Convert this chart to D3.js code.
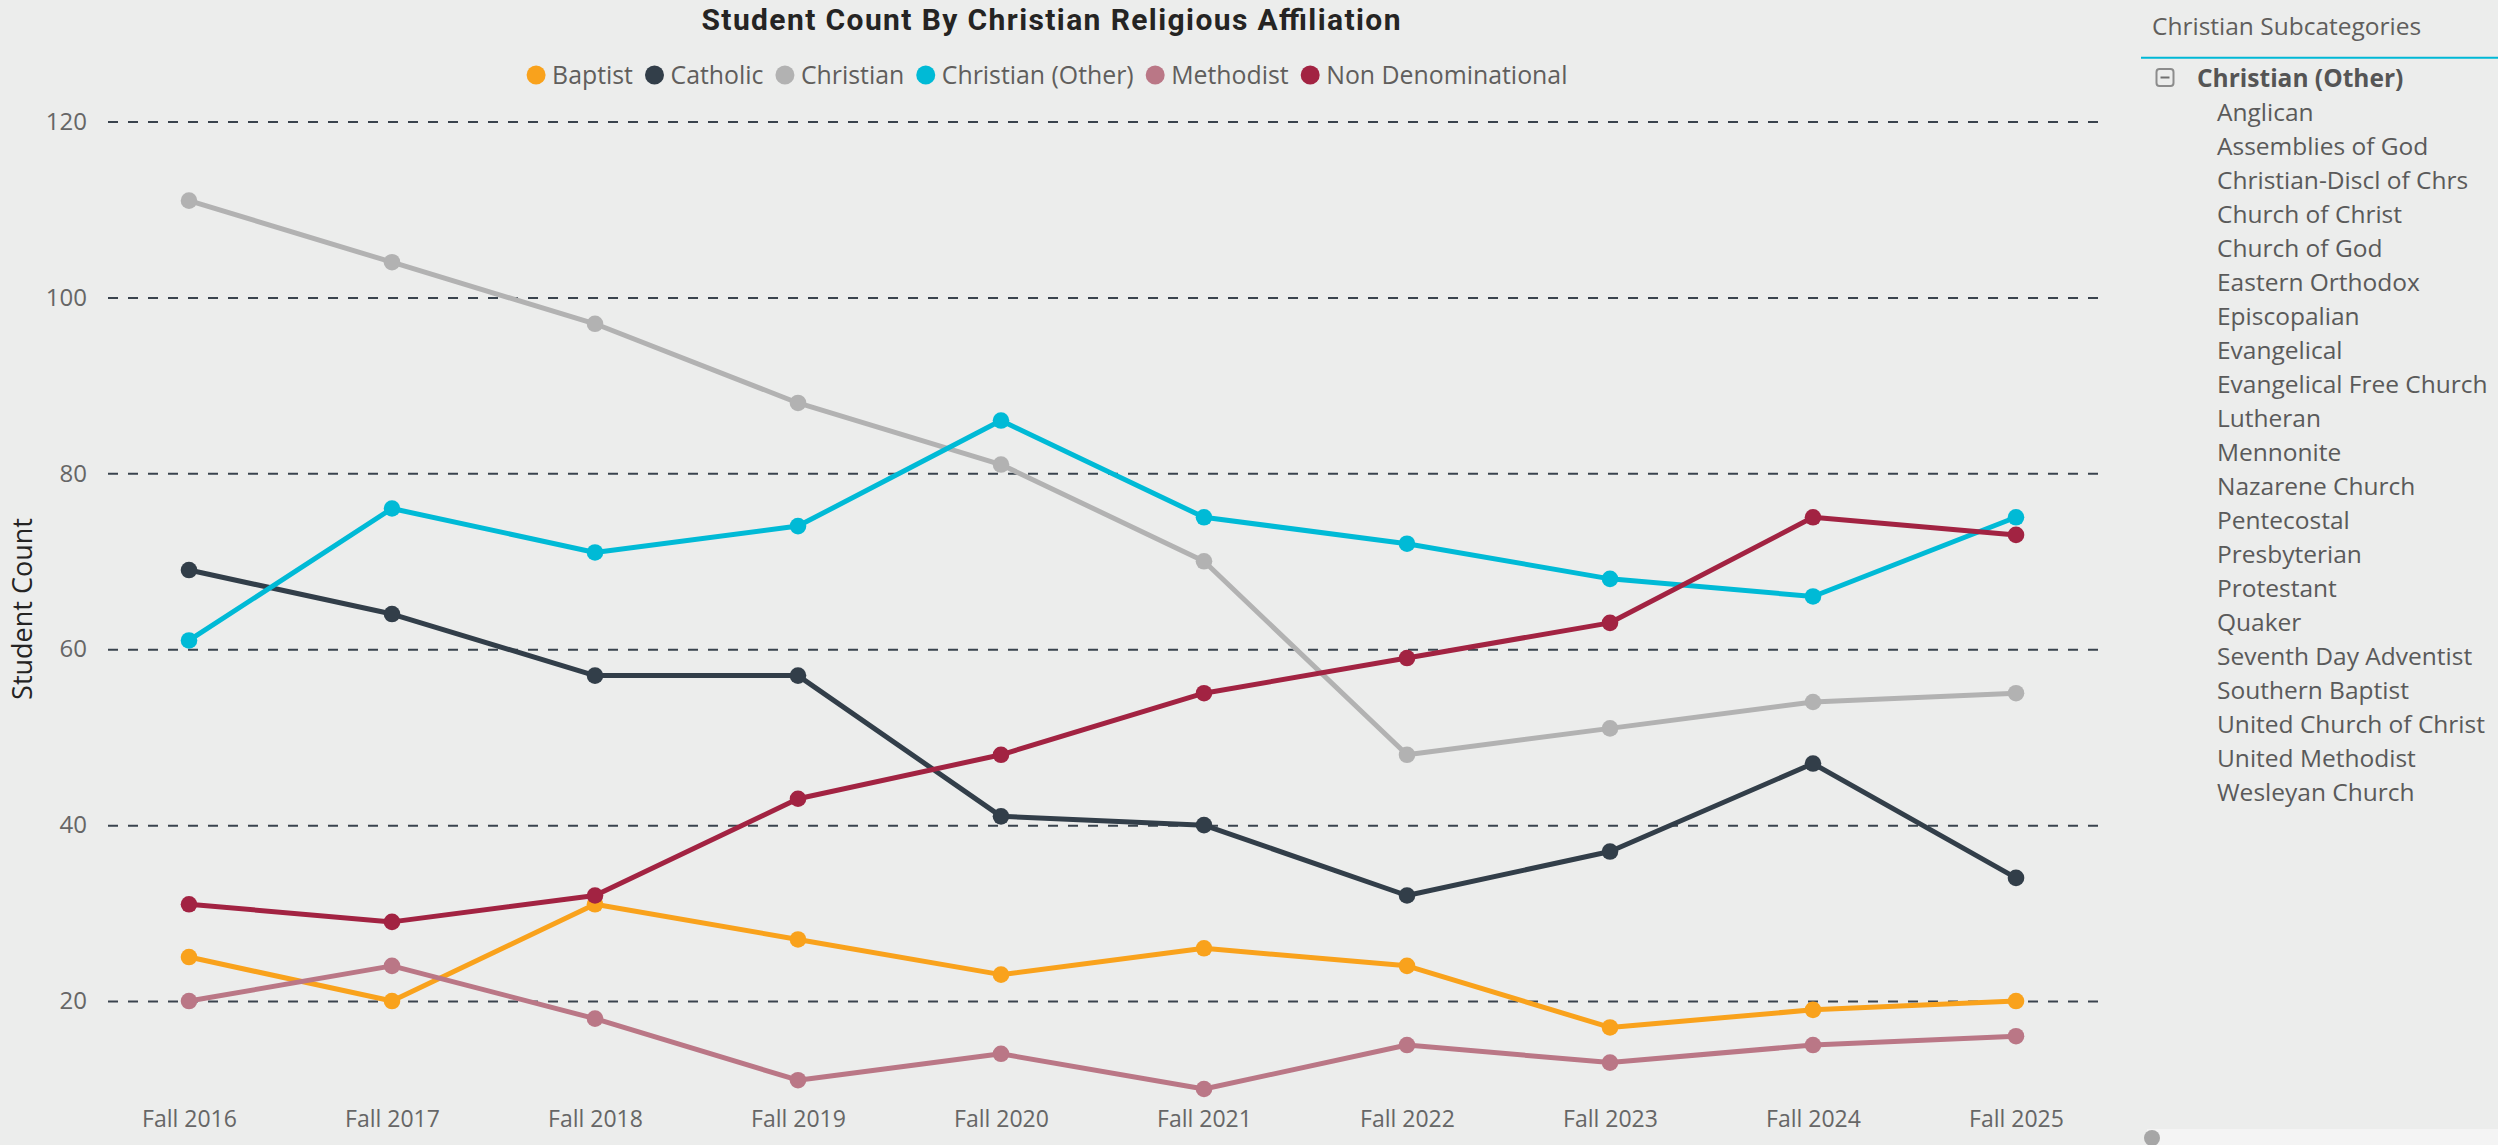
<!DOCTYPE html>
<html>
<head>
<meta charset="utf-8">
<script src="https://cdn.jsdelivr.net/npm/d3@7"></script>
<style>
  html, body { margin: 0; padding: 0; background: #ECEDEC; }
  svg { display: block; }
  text { font-family: "Segoe UI", "Open Sans", "Noto Sans", sans-serif; }
</style>
</head>
<body>
<svg id="chart" width="2498" height="1145"></svg>
<script>
// ---------- data ----------
const years = ["Fall 2016","Fall 2017","Fall 2018","Fall 2019","Fall 2020","Fall 2021","Fall 2022","Fall 2023","Fall 2024","Fall 2025"];
const seriesNames = ["Baptist","Catholic","Christian","Christian (Other)","Methodist","Non Denominational"];
const seriesColors = ["#F9A21C","#323E49","#B2B2B2","#00BAD6","#BA7786","#A22342"];
const baptist          = [25, 20, 31, 27, 23, 26, 24, 17, 19, 20];
const catholic         = [69, 64, 57, 57, 41, 40, 32, 37, 47, 34];
const christian        = [111, 104, 97, 88, 81, 70, 48, 51, 54, 55];
const christianOther   = [61, 76, 71, 74, 86, 75, 72, 68, 66, 75];
const methodist        = [20, 24, 18, 11, 14, 10, 15, 13, 15, 16];
const nonDenominational= [31, 29, 32, 43, 48, 55, 59, 63, 75, 73];
const seriesValues = [baptist, catholic, christian, christianOther, methodist, nonDenominational];
const yTicks = [20, 40, 60, 80, 100, 120];
const chartTitle = "Student Count By Christian Religious Affiliation";
const yTitle = "Student Count";
const panelTitle = "Christian Subcategories";
const panelGroup = "Christian (Other)";
const subcategories = ["Anglican","Assemblies of God","Christian-Discl of Chrs","Church of Christ","Church of God","Eastern Orthodox","Episcopalian","Evangelical","Evangelical Free Church","Lutheran","Mennonite","Nazarene Church","Pentecostal","Presbyterian","Protestant","Quaker","Seventh Day Adventist","Southern Baptist","United Church of Christ","United Methodist","Wesleyan Church"];

// ---------- layout ----------
const svg = d3.select("#chart");
const plotLeft = 108, plotRight = 2099;
const x = d3.scalePoint().domain(years).range([189, 2016]);
const y = d3.scaleLinear().domain([10, 120]).range([1089, 121.5]);
const labelColor = "#666666";

// title
svg.append("text")
  .attr("x", 1051).attr("y", 30)
  .attr("text-anchor", "middle")
  .attr("textLength", 699).attr("lengthAdjust", "spacing")
  .style("font-family", "Roboto, 'DejaVu Sans Condensed', sans-serif")
  .style("font-weight", "700")
  .style("font-size", "30px")
  .attr("fill", "#252423")
  .text(chartTitle);

// gridlines
const grid = svg.append("g").attr("transform", `translate(${plotLeft},0)`)
  .call(d3.axisRight(y).tickValues(yTicks).tickSize(plotRight - plotLeft).tickFormat(""));
grid.select(".domain").remove();
grid.selectAll("line").attr("stroke", "#3A444E").attr("stroke-width", 2).attr("stroke-dasharray", "10,10");

// y axis labels
const yAxis = svg.append("g").attr("transform", `translate(${plotLeft},0)`)
  .call(d3.axisLeft(y).tickValues(yTicks).tickSize(0).tickPadding(21));
yAxis.select(".domain").remove();
yAxis.selectAll("text").attr("fill", labelColor).style("font-size", "24px")
  .style("font-family", "'Segoe UI','Open Sans',sans-serif");

// x axis labels
const xAxis = svg.append("g").attr("transform", `translate(0,1098)`)
  .call(d3.axisBottom(x).tickSize(0).tickPadding(13));
xAxis.select(".domain").remove();
xAxis.selectAll("text").attr("fill", labelColor).style("font-size", "23px")
  .style("font-family", "'Segoe UI','Open Sans',sans-serif");

// y title
svg.append("text")
  .attr("transform", "translate(32,609) rotate(-90)")
  .attr("text-anchor", "middle")
  .attr("fill", "#252423")
  .style("font-size", "27px")
  .text(yTitle);

// series
const line = d3.line().x((d, i) => x(years[i])).y(d => y(d));
seriesNames.forEach((name, si) => {
  const g = svg.append("g").attr("class", "series");
  g.append("path").datum(seriesValues[si])
    .attr("d", line).attr("fill", "none")
    .attr("stroke", seriesColors[si]).attr("stroke-width", 5)
    .attr("stroke-linejoin", "round").attr("stroke-linecap", "round");
  g.selectAll("circle").data(seriesValues[si]).join("circle")
    .attr("cx", (d, i) => x(years[i])).attr("cy", d => y(d)).attr("r", 8.3)
    .attr("fill", seriesColors[si]);
});

// legend
const legend = svg.append("g");
const legItems = seriesNames.map((name, i) => {
  const gi = legend.append("g");
  gi.append("circle").attr("r", 9.5).attr("cy", 75).attr("fill", seriesColors[i]);
  const t = gi.append("text").attr("y", 75).attr("dy", "0.35em")
    .attr("fill", "#605E5C").style("font-size", "23px").text(name);
  return { gi, t };
});
{
  let sum = 0;
  legItems.forEach(it => sum += it.t.node().getComputedTextLength());
  const fs = 23 * 828 / sum;
  legItems.forEach(it => it.t.style("font-size", fs.toFixed(2) + "px"));
  let cx = 0;
  const positions = [];
  legItems.forEach(it => {
    positions.push(cx);
    const w = it.t.node().getComputedTextLength();
    cx = cx + 16 + w + 21.5;
  });
  const total = cx - 21.5 + 9.5;
  const start = 1047 - total / 2 + 9.5;
  legItems.forEach((it, i) => {
    it.gi.select("circle").attr("cx", start + positions[i]);
    it.t.attr("x", start + positions[i] + 16);
  });
}

// right panel
const panel = svg.append("g");
panel.append("text").attr("x", 2152).attr("y", 34.5)
  .attr("fill", "#605E5C").style("font-size", "24.5px").text(panelTitle);
panel.append("line").attr("x1", 2141).attr("x2", 2498).attr("y1", 57.7).attr("y2", 57.7)
  .attr("stroke", "#00B8D6").attr("stroke-width", 2);
panel.append("rect").attr("x", 2156.5).attr("y", 69).attr("width", 17).attr("height", 17).attr("rx", 3)
  .attr("fill", "none").attr("stroke", "#8C8C8C").attr("stroke-width", 2);
panel.append("line").attr("x1", 2160.5).attr("x2", 2169.5).attr("y1", 77.5).attr("y2", 77.5)
  .attr("stroke", "#707070").attr("stroke-width", 2);
panel.append("text").attr("x", 2197).attr("y", 87)
  .attr("fill", "#555555").style("font-weight", "700").style("font-size", "24.5px").text(panelGroup);
panel.selectAll("text.sub").data(subcategories).join("text").attr("class", "sub")
  .attr("x", 2217).attr("y", (d, i) => 120.7 + i * 34)
  .attr("fill", "#5A5A5A").style("font-size", "24.5px").text(d => d);

// bottom scrollbar
svg.append("rect").attr("x", 2147).attr("y", 1129).attr("width", 351).attr("height", 16).attr("fill", "#F4F4F4");
svg.append("circle").attr("cx", 2152).attr("cy", 1138).attr("r", 8).attr("fill", "#A6A6A6");
</script>
</body>
</html>
